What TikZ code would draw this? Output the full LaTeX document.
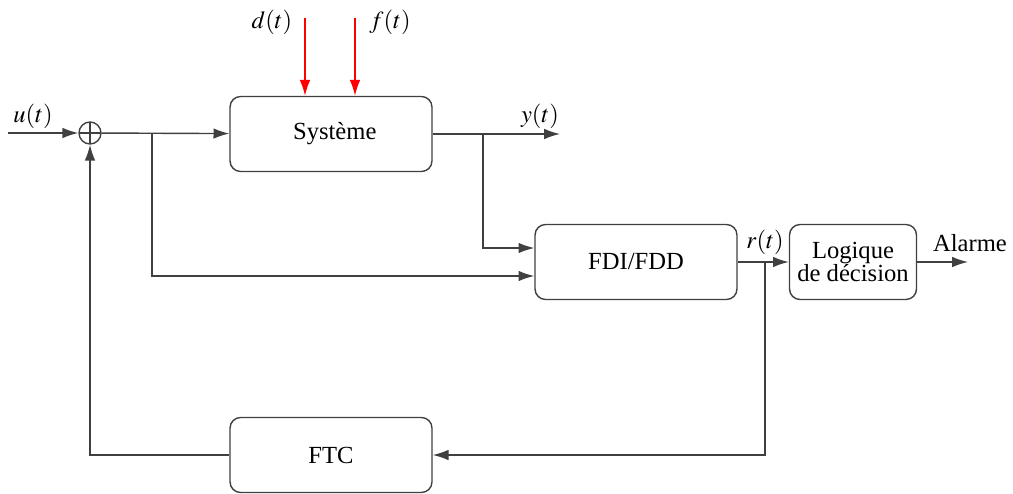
\documentclass[tikz,border=0pt]{standalone}
\usepackage{mathptmx}
\usepackage{fontspec}
\setmainfont{Liberation Serif}
\usepackage{tikz}
\usetikzlibrary{arrows.meta}
\usetikzlibrary{positioning}
\tikzstyle{bloc}=[rectangle,draw=black!75,line width=0.8pt,rounded corners=6pt,
        minimum width=4.04cm,minimum height=1.5cm,align=center]
\tikzstyle{somme}=[circle,draw=black!75,line width=0.8pt,minimum size=0.44cm,inner sep=0pt,
        path picture={\draw[line width=0.6pt] (path picture bounding box.north) -- (path picture bounding box.south)
        (path picture bounding box.west) -- (path picture bounding box.east);}]
\tikzstyle{signal}=[inner sep=1pt]
\tikzstyle{suite}=[-{Latex[length=9pt,width=6pt]},draw=black!75,line width=0.8pt]
\tikzstyle{perturb}=[-{Latex[length=9pt,width=6pt]},draw=red,line width=0.8pt]

\begin{document}
\begin{tikzpicture}[x=0.02cm,y=-0.02cm,font=\fontsize{14}{16}\selectfont]
\useasboundingbox (0,0) rectangle (1013,493);
\node[somme] (sum) at (90,133) {};
\node[bloc] (sys) at (331,134) {\hspace*{0.15cm}Système};
\node[bloc] (fdi) at (636,262) {FDI/FDD};
\node[bloc,minimum width=2.54cm] (logique) at (853,262) {Logique\\[-3pt]de décision};
\node[bloc] (ftc) at (331,455) {FTC};
%Points
\coordinate (entree) at (8,133);
\coordinate (b1) at (152,133);
\coordinate (b2) at (483,134);
\coordinate (sortie) at (560,134);
\coordinate (b3) at (765,262);
\coordinate (alarme) at (968,262);
\coordinate (d) at (305,18);
\coordinate (f) at (355,18);
%Labels
\node[signal] (lu) at (33,116) {$u(t)$};
\node[signal] (ld) at (272,22) {$d(t)$};
\node[signal] (lf) at (390,22) {$f(t)$};
\node[signal] (ly) at (540,116) {$y(t)$};
\node[signal] (lr) at (765,242) {$r(t)$};
\node[signal] (la) at (970,243) {Alarme};
%Drawing Edges
\draw[suite] (entree) -- (sum);
\draw[suite] (sum) -- (sys);
\draw[perturb] (d) -- (d |- sys.north);
\draw[perturb] (f) -- (f |- sys.north);
\draw[suite] (sys) -- (sortie);
\draw[suite] (b2) |- ([yshift=0.28cm]fdi.west);
\draw[suite] (b1) |- ([yshift=-0.28cm]fdi.west);
\draw[suite] (fdi) -- (logique);
\draw[suite] (logique) -- (alarme);
\draw[suite] (b3) |- (ftc);
\draw[suite] (ftc) -| (sum);
\end{tikzpicture}
\end{document}
